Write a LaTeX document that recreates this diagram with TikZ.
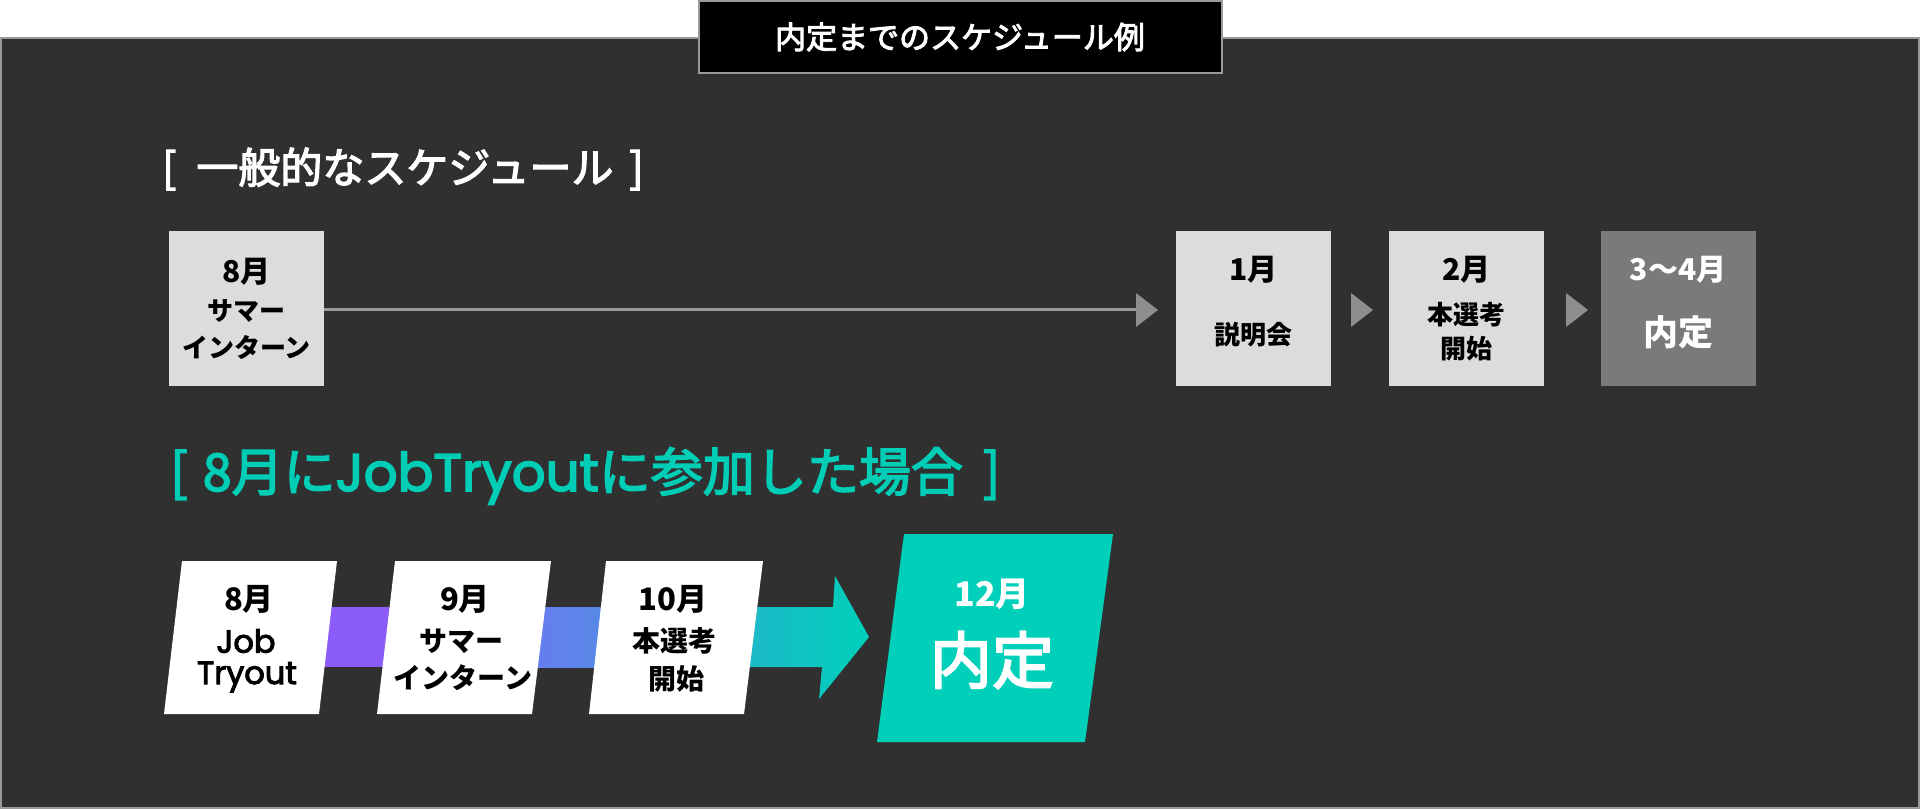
\documentclass[tikz,border=0pt]{standalone}
\usepackage{fontspec}
\setmainfont{Noto Sans CJK JP}
\newfontfamily\medfont{Noto Sans CJK JP}[FakeBold=3]
\newfontfamily\latinfont{Poppins}[FakeBold=3]
\usetikzlibrary{shadings}
\definecolor{panel}{HTML}{303030}
\definecolor{edgegrey}{HTML}{9A9A9A}
\definecolor{boxlight}{HTML}{DCDCDC}
\definecolor{boxgrey}{HTML}{7A7A7A}
\definecolor{accteal}{HTML}{00D0BA}
\definecolor{titleteal}{HTML}{00CDB6}
\definecolor{violetbar}{HTML}{8B5CFA}
\definecolor{blueA}{HTML}{6A7BF0}
\definecolor{blueB}{HTML}{508DE2}
\definecolor{tealA}{HTML}{1FB7CA}
\definecolor{arrowgrey}{HTML}{8E8E8E}
\definecolor{linegrey}{HTML}{999999}
\newcommand\fsz[1]{\fontsize{#1}{#1}\selectfont}
\tikzset{
  txt/.style={inner sep=0pt, anchor=center},
  lbox/.style={fill=boxlight, draw=none, minimum width=155pt, minimum height=155pt, inner sep=0pt},
  gbox/.style={fill=boxgrey, draw=none, minimum width=155pt, minimum height=155pt, inner sep=0pt},
  tri/.style={fill=arrowgrey},
  wbox/.style={fill=white},
  big/.style={txt, font=\fsz{30}\bfseries},
  small/.style={txt, font=\fsz{26}\bfseries},
  bsmall/.style={txt, font=\fsz{28}\bfseries},
}
\begin{document}
\begin{tikzpicture}[x=1pt,y=-1pt]
\useasboundingbox (0,0) rectangle (1920,810);
\fill[white] (0,0) rectangle (1920,810);
% panel
\draw[fill=panel, draw=edgegrey, line width=2pt] (1,38) rectangle (1919,808);
% header
\node[fill=black, draw=edgegrey, line width=2pt, minimum width=523pt, minimum height=72pt, inner sep=0pt] (hdr) at (960,37) {};
\node[txt, text=white, font=\medfont\fsz{31}] (hdrt) at (hdr.center) {内定までのスケジュール例};
% section 1 title
\node[txt, anchor=west, text=white, font=\medfont\fsz{42}] (t1) at (162,169) {[\hspace{20pt}一般的なスケジュール\hspace{16pt}]};
% top boxes
\node[lbox] (b8) at (246.5,308.5) {};
\node[lbox] (b1) at (1253.5,308.5) {};
\node[lbox] (b2) at (1466.5,308.5) {};
\node[gbox] (b3) at (1678,308.5) {};
\coordinate (lend) at (1137,310);
\draw[linegrey, line width=3pt] (b8.east |- lend) -- (lend);
\fill[tri] (1136,293) -- (1158,310) -- (1136,327) -- cycle;
\fill[tri] (1351,293) -- (1373,310) -- (1351,327) -- cycle;
\fill[tri] (1566,293) -- (1588,310) -- (1566,327) -- cycle;
% top texts
\node[big] (a1) at (246.5,272) {8月};
\node[small] (a2) at (246.5,311) {サマー};
\node[small] (a3) at (246.5,347) {インターン};
\node[big] (c1) at (1253.5,270) {1月};
\node[small] (c2) at (1253.5,335) {説明会};
\node[big] (d1) at (1466.5,270) {2月};
\node[small] (d2) at (1466.5,315) {本選考};
\node[small] (d3) at (1466.5,349) {開始};
\node[big, text=white] (e1) at (1678,270) {3〜4月};
\node[txt, text=white, font=\fsz{35}\bfseries] (e2) at (1678,332) {内定};
% section 2 title
\node[txt, anchor=west, text=titleteal, font=\medfont\fsz{52}] (t2) at (170,476) {[\hspace{15pt}8月に{\latinfont\fsz{53}JobTryout}に参加した場合\hspace{20pt}]};
% bars
\fill[violetbar] (300,607) rectangle (420,667);
\shade[left color=blueA, right color=blueB] (520,607) rectangle (630,667);
\shade[left color=tealA, right color=accteal, shading=axis] (735,607) -- (833,607) -- (835,576) -- (869,637) -- (819,699) -- (822,667) -- (735,667) -- cycle;
% bottom boxes
\fill[wbox] (182,561) -- (337,561) -- (319,714) -- (164,714) -- cycle;
\fill[wbox] (395,561) -- (551,561) -- (532,714) -- (377,714) -- cycle;
\fill[wbox] (606,561) -- (763,561) -- (744,714) -- (589,714) -- cycle;
\fill[accteal] (904,534) -- (1113,534) -- (1085,742) -- (877,742) -- cycle;
% bottom texts
\node[txt, font=\fsz{31}\bfseries] (f1) at (249,599) {8月};
\node[txt, font=\latinfont\fsz{32}] (f2) at (246,641) {Job};
\node[txt, font=\latinfont\fsz{32}] (f3) at (247,677) {Tryout};
\node[txt, font=\fsz{31}\bfseries] (g1) at (465,599) {9月};
\node[bsmall] (g2) at (461,641) {サマー};
\node[bsmall] (g3) at (463,678) {インターン};
\node[txt, font=\fsz{31}\bfseries] (h1) at (673,599) {10月};
\node[bsmall] (h2) at (674,641) {本選考};
\node[bsmall] (h3) at (676,679) {開始};
\node[txt, text=white, font=\fsz{34}\bfseries] (k1) at (992,594) {12月};
\node[txt, text=white, font=\medfont\fsz{62}] (k2) at (992,660) {内定};
\end{tikzpicture}
\end{document}
